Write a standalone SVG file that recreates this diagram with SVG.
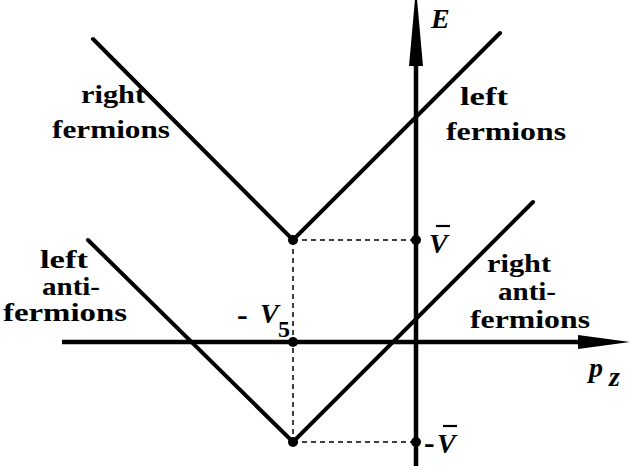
<svg xmlns="http://www.w3.org/2000/svg" width="639" height="466" viewBox="0 0 639 466">
<style>
.ln{stroke:#000;stroke-width:4;fill:none;stroke-linecap:round}
.ax{stroke:#000;stroke-width:4.5;fill:none}
.ds{stroke:#000;stroke-width:1.5;stroke-dasharray:5,4;fill:none}
.lb{font-weight:bold;font-size:25px;text-anchor:middle}
.m{font-weight:bold;font-style:italic;font-size:28px}
.s{font-weight:bold;font-size:24px}
.d{font-weight:bold;font-size:32px}
</style>
<rect width="639" height="466" fill="#fff"/>
<g id="connectors">
<line class="ax" x1="416" y1="466" x2="416" y2="50"/>
<polygon points="416,-12 423,66 409,66" fill="#000"/>
<line class="ax" x1="62" y1="342" x2="590" y2="342"/>
<polygon points="630,342 578,335 578,349" fill="#000"/>
<polyline class="ln" points="93,39 293,240 500,33"/>
<polyline class="ln" points="88,240 293,442 533,202"/>
<line class="ds" x1="293" y1="240" x2="293" y2="442"/>
<line class="ds" x1="293" y1="240" x2="416" y2="240"/>
<line class="ds" x1="293" y1="442" x2="416" y2="442"/>
</g>
<g id="dots" fill="#000">
<circle cx="293" cy="240" r="5"/>
<circle cx="416" cy="240" r="5"/>
<circle cx="293" cy="342" r="5"/>
<circle cx="293" cy="442" r="5"/>
<circle cx="416" cy="442" r="5"/>
</g>
<g font-family="Liberation Serif, Times New Roman, serif" fill="#000">
<g id="right-fermions">
<text class="lb" x="113" y="103" textLength="64" lengthAdjust="spacingAndGlyphs">right</text>
<text class="lb" x="111" y="138" textLength="118" lengthAdjust="spacingAndGlyphs">fermions</text>
</g>
<g id="left-fermions">
<text class="lb" x="484" y="105" textLength="48" lengthAdjust="spacingAndGlyphs">left</text>
<text class="lb" x="506" y="140" textLength="120" lengthAdjust="spacingAndGlyphs">fermions</text>
</g>
<g id="left-antifermions">
<text class="lb" x="64" y="268" textLength="48" lengthAdjust="spacingAndGlyphs">left</text>
<text class="lb" x="71" y="295" textLength="58" lengthAdjust="spacingAndGlyphs">anti-</text>
<text class="lb" x="65" y="321" textLength="124" lengthAdjust="spacingAndGlyphs">fermions</text>
</g>
<g id="right-antifermions">
<text class="lb" x="519" y="272" textLength="64" lengthAdjust="spacingAndGlyphs">right</text>
<text class="lb" x="527" y="300" textLength="58" lengthAdjust="spacingAndGlyphs">anti-</text>
<text class="lb" x="530" y="328" textLength="120" lengthAdjust="spacingAndGlyphs">fermions</text>
</g>
<g id="labels">
<text class="m" x="431" y="28">E</text>
<text class="m" x="429" y="253">V</text>
<text class="d" x="237" y="325">-</text>
<text class="m" x="260" y="323">V</text>
<text class="s" x="278" y="337">5</text>
<text class="d" x="424" y="453">-</text>
<text class="m" x="437" y="453">V</text>
<text class="m" x="589" y="377">p</text>
<text class="m" x="609" y="386" font-size="22">z</text>
</g>
</g>
<line x1="436" y1="226" x2="450" y2="226" stroke="#000" stroke-width="2.2"/>
<line x1="443" y1="426" x2="457" y2="426" stroke="#000" stroke-width="2.2"/>
</svg>
